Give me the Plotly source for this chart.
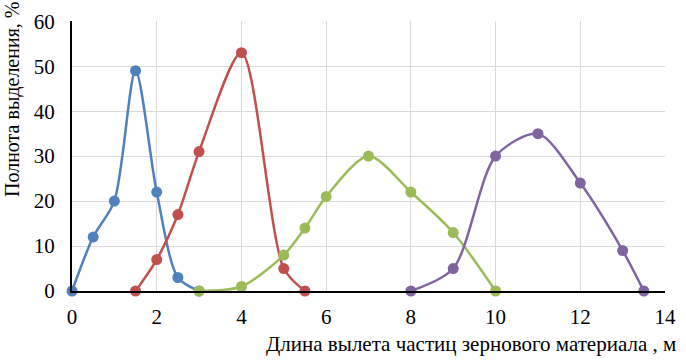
import plotly.graph_objects as go

# Data
blue_x = [0, 0.5, 1, 1.5, 2, 2.5, 3]
blue_y = [0, 12, 20, 49, 22, 3, 0]
red_x = [1.5, 2, 2.5, 3, 4, 5, 5.5]
red_y = [0, 7, 17, 31, 53, 5, 0]
green_x = [3, 4, 5, 5.5, 6, 7, 8, 9, 10]
green_y = [0, 1, 8, 14, 21, 30, 22, 13, 0]
purple_x = [8, 9, 10, 11, 12, 13, 13.5]
purple_y = [0, 5, 30, 35, 24, 9, 0]

x_ticks = [0, 2, 4, 6, 8, 10, 12, 14]
y_ticks = [0, 10, 20, 30, 40, 50, 60]

x_title = "Длина вылета частиц зернового материала , м"
y_title = "Полнота выделения, %"

series = [
    (blue_x, blue_y, "#4F81BD"),
    (red_x, red_y, "#C0504D"),
    (green_x, green_y, "#9BBB59"),
    (purple_x, purple_y, "#8064A2"),
]

font_family = "Liberation Serif"

fig = go.Figure()
for xs, ys, col in series:
    fig.add_trace(go.Scatter(
        x=xs, y=ys, mode="lines+markers",
        line=dict(color=col, width=2.5, shape="spline", smoothing=0.8),
        marker=dict(color=col, size=11),
        showlegend=False, cliponaxis=False,
    ))

fig.update_layout(
    width=686, height=360,
    margin=dict(l=72, r=12, t=10, b=69),
    paper_bgcolor="white", plot_bgcolor="white",
    font=dict(family=font_family, color="black"),
    xaxis=dict(range=[0, 14], tickvals=x_ticks, showgrid=True,
               gridcolor="#D9D9D9", gridwidth=1, zeroline=False,
               showline=True, linecolor="black", linewidth=2,
               tickfont=dict(size=21, family=font_family, color="black"),
               ticks="", ticklen=0, ticklabeloverflow="allow",
               ticklabelstandoff=6),
    yaxis=dict(range=[0, 60.05], tickvals=y_ticks, showgrid=True,
               gridcolor="#D9D9D9", gridwidth=1, zeroline=False,
               showline=True, linecolor="black", linewidth=2,
               tickfont=dict(size=21, family=font_family, color="black"),
               ticks="", ticklen=0, ticklabeloverflow="allow",
               ticklabelstandoff=11),
    annotations=[
        dict(text=x_title, xref="paper", yref="paper", x=1.022, y=-0.197,
             xanchor="right", yanchor="middle", showarrow=False,
             font=dict(size=21, family=font_family, color="black")),
        dict(text=y_title, xref="paper", yref="paper", x=-0.1, y=0.71,
             xanchor="center", yanchor="middle", textangle=-90, showarrow=False,
             font=dict(size=20, family=font_family, color="black")),
    ],
)
fig.write_html("out.html", config={"displayModeBar": False},
               post_script="document.body.style.margin='0';")
